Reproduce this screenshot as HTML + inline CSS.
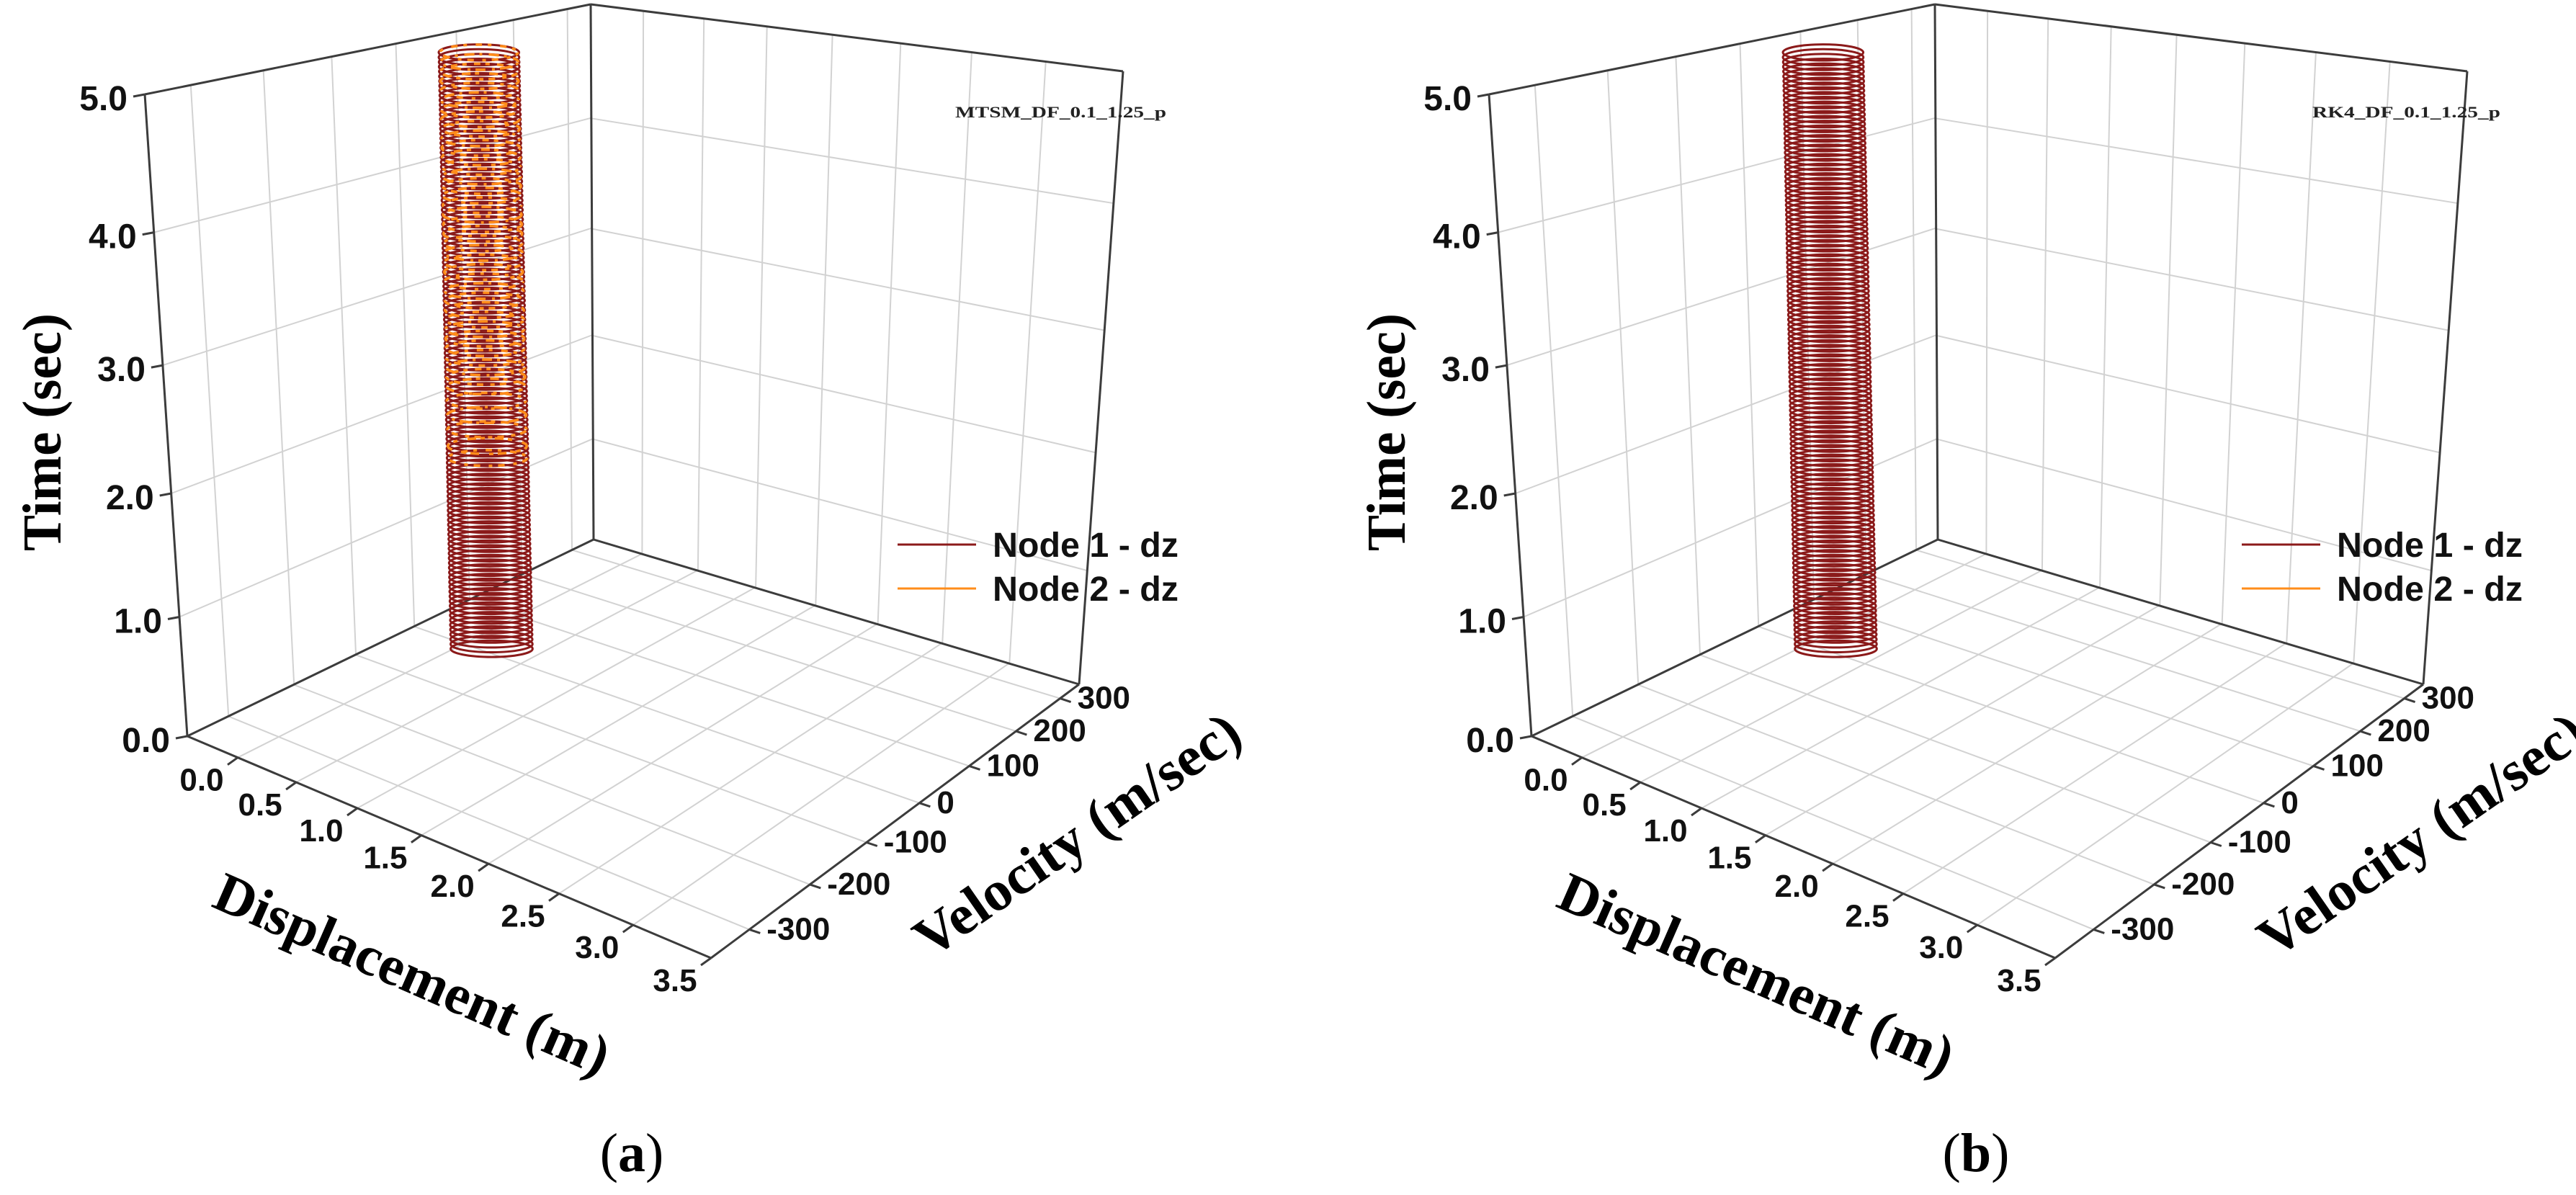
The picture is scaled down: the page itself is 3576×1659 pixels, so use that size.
<!DOCTYPE html>
<html><head><meta charset="utf-8">
<style>
html,body{margin:0;padding:0;background:#fff;}
svg{display:block;}
</style></head>
<body>
<svg id="fig" width="3576" height="1659" viewBox="0 0 3576 1659" xmlns="http://www.w3.org/2000/svg">
  <g id="panelA"></g>
  <g id="panelB" transform="translate(1866,0)"></g>
</svg>
<script>
// ---- chart data ----
const dispTicks = [0.0, 0.5, 1.0, 1.5, 2.0, 2.5, 3.0, 3.5];
const dispTickLabels = ["0.0","0.5","1.0","1.5","2.0","2.5","3.0","3.5"];
const velTicks = [-300, -200, -100, 0, 100, 200, 300];
const velTickLabels = ["-300","-200","-100","0","100","200","300"];
const timeTicks = [0, 1, 2, 3, 4, 5];
const timeTickLabels = ["0.0","1.0","2.0","3.0","4.0","5.0"];
const dispRange = [-0.45, 3.5];
const velRange = [-360, 345];
const timeRange = [0, 5];
// phase-space ring samples (time of each orbit), node 1 / node 2
const node1Times = [0.00,0.04,0.08,0.12,0.16,0.20,0.24,0.28,0.32,0.36,0.40,0.44,0.48,0.52,0.56,0.60,0.64,0.68,0.72,0.76,0.80,0.84,0.88,0.92,0.96,1.00,1.04,1.08,1.12,1.16,1.20,1.24,1.28,1.32,1.36,1.40,1.44,1.48,1.52,1.56,1.60,1.64,1.68,1.72,1.76,1.80,1.84,1.88,1.92,1.96,2.00,2.04,2.08,2.12,2.16,2.20,2.24,2.28,2.32,2.36,2.40,2.44,2.48,2.52,2.56,2.60,2.64,2.68,2.72,2.76,2.80,2.84,2.88,2.92,2.96,3.00,3.04,3.08,3.12,3.16,3.20,3.24,3.28,3.32,3.36,3.40,3.44,3.48,3.52,3.56,3.60,3.64,3.68,3.72,3.76,3.80,3.84,3.88,3.92,3.96,4.00,4.04,4.08,4.12,4.16,4.20,4.24,4.28,4.32,4.36,4.40,4.44,4.48,4.52,4.56,4.60,4.64,4.68,4.72,4.76,4.80,4.84,4.88,4.92,4.96,5.00];
const node2TimesA = [1.60,1.70,1.84,1.96,2.08,2.20,2.28,2.36,2.44,2.52,2.60,2.68,2.76,2.84,2.92,3.00,3.08,3.16,3.24,3.32,3.40,3.48,3.56,3.64,3.72,3.80,3.88,3.96,4.04,4.12,4.20,4.28,4.36,4.44,4.52,4.60,4.68,4.76,4.84,4.92,5.00];
const node2TimesB = [];
const ringDispCenter = [0.20];
const ringVelCenter = [10];
const ringDispAmp = [0.36];

// ---- geometry (pixel layout, not data) ----
const L0=[260,1022], F0=[987,1330], R0=[1498,950], B0=[824,749];
const L1=[201,131], F1=[993,331], R1=[1559,99], B1=[820,6];

function homog(q){
  const [x0,y0]=q[0],[x1,y1]=q[1],[x2,y2]=q[2],[x3,y3]=q[3];
  const dx1=x1-x2,dx2=x3-x2,dx3=x0-x1+x2-x3,dy1=y1-y2,dy2=y3-y2,dy3=y0-y1+y2-y3;
  const den=dx1*dy2-dx2*dy1;
  const g=(dx3*dy2-dx2*dy3)/den,h=(dx1*dy3-dx3*dy1)/den;
  const a=x1-x0+g*x1,b=x3-x0+h*x3,c=x0,d=y1-y0+g*y1,e=y3-y0+h*y3,f=y0;
  return (u,w)=>{const z=g*u+h*w+1;return [(a*u+b*w+c)/z,(d*u+e*w+f)/z];};
}
const floorH=homog([L0,F0,R0,B0]);
const ceilH=homog([L1,F1,R1,B1]);
const leftH=homog([L0,B0,B1,L1]);
const backH=homog([B0,R0,R1,B1]);
const fd=d=>(d-dispRange[0])/(dispRange[1]-dispRange[0]);
const fv=v=>(v-velRange[0])/(velRange[1]-velRange[0]);
const ft=t=>(t-timeRange[0])/(timeRange[1]-timeRange[0]);
function P3(d,v,t){const a=floorH(fd(d),fv(v)),b=ceilH(fd(d),fv(v)),k=ft(t);return [a[0]+(b[0]-a[0])*k,a[1]+(b[1]-a[1])*k];}

const NS="http://www.w3.org/2000/svg";
function mk(parent,tag,attrs){const el=document.createElementNS(NS,tag);for(const k in attrs)el.setAttribute(k,attrs[k]);parent.appendChild(el);return el;}
function line(parent,p,q,stroke,w){return mk(parent,'line',{x1:p[0].toFixed(1),y1:p[1].toFixed(1),x2:q[0].toFixed(1),y2:q[1].toFixed(1),stroke:stroke,'stroke-width':w});}

function drawPanel(g,title,n2times,letter){
  const grid=mk(g,'g',{});
  
  
  const gc='#d2d2d2', gw=2;
  dispTicks.forEach(d=>{
    const l1=line(grid,floorH(fd(d),0),floorH(fd(d),1),gc,gw);
    
    
    const l2=line(grid,backH(fd(d),0),backH(fd(d),1),gc,gw);
    
    
  });
  velTicks.forEach(v=>{
    const l1=line(grid,floorH(0,fv(v)),floorH(1,fv(v)),gc,gw);
    
    
    const l2=line(grid,leftH(fv(v),0),leftH(fv(v),1),gc,gw);
    
    
  });
  timeTicks.forEach(t=>{
    const l1=line(grid,leftH(0,ft(t)),leftH(1,ft(t)),gc,gw);
    
    
    const l2=line(grid,backH(0,ft(t)),backH(1,ft(t)),gc,gw);
    
    
  });
  const edges=mk(g,'g',{});
  
  
  [[L0,L1],[L1,B1],[B1,R1],[R1,R0],[L0,B0],[B0,R0],[B0,B1],[L0,F0],[F0,R0]].forEach(e=>{
    const l=line(edges,e[0],e[1],'#3c3c3c',3);
    
    
  });
  const tl=mk(g,'g',{'font-family':'"Liberation Sans", Arial, sans-serif','font-weight':'bold','fill':'#111'});
  
  
  timeTicks.forEach((t,i)=>{
    const p=leftH(0,ft(t));
    const tk=line(tl,p,[p[0]-16,p[1]+3],'#3c3c3c',3);
    
    
    const tx=mk(tl,'text',{x:(p[0]-24).toFixed(1),y:(p[1]+22).toFixed(1),'text-anchor':'end','font-size':48});
    tx.textContent=timeTickLabels[i];
    
    
  });
  dispTicks.forEach((d,i)=>{
    const p=floorH(fd(d),0);
    const tk=line(tl,p,[p[0]-14,p[1]+10],'#3c3c3c',3);
    
    
    const tx=mk(tl,'text',{x:(p[0]-50).toFixed(1),y:(p[1]+46).toFixed(1),'text-anchor':'middle','font-size':44});
    tx.textContent=dispTickLabels[i];
    
    
  });
  velTicks.forEach((v,i)=>{
    const p=floorH(1,fv(v));
    const tk=line(tl,p,[p[0]+15,p[1]+5],'#3c3c3c',3);
    
    
    const tx=mk(tl,'text',{x:(p[0]+24).toFixed(1),y:(p[1]+14).toFixed(1),'text-anchor':'start','font-size':44});
    tx.textContent=velTickLabels[i];
    
    
  });
  const s1=mk(g,'g',{fill:'none',stroke:'#8b1a1a','stroke-width':3});
  
  
  function ring(parent,t,k){
    const c=P3(ringDispCenter[0],ringVelCenter[0],t);
    const a=P3(ringDispCenter[0]+ringDispAmp[0],ringVelCenter[0],t), b=P3(ringDispCenter[0]-ringDispAmp[0],ringVelCenter[0],t);
    const rx=Math.abs(a[0]-b[0])/2*k;
    return mk(parent,'ellipse',{cx:c[0].toFixed(1),cy:c[1].toFixed(1),rx:rx.toFixed(1),ry:(rx*0.2).toFixed(1)});
  }
  node1Times.forEach(t=>{
    const e=ring(s1,t,1);
    
    
  });
  const s2=mk(g,'g',{fill:'none',stroke:'#ff8c1a','stroke-width':3.6});
  
  
  const dashes=['9 8 5 12','12 6 6 14','6 10 9 7','14 7 4 9'];
  n2times.forEach((t,i)=>{
    const e=ring(s2,t,0.97);
    e.setAttribute('stroke-dasharray',dashes[i%4]);
    e.setAttribute('stroke-dashoffset',(i*7)%23);
    
    
  });
  const lg=mk(g,'g',{'font-family':'"Liberation Sans", Arial, sans-serif','font-weight':'bold','font-size':48,fill:'#111'});
  
  
  [['Node 1 - dz','#8b1a1a',756],['Node 2 - dz','#ff8c1a',817]].forEach(r=>{
    const l=line(lg,[1246,r[2]],[1355,r[2]],r[1],3);
    
    
    const tx=mk(lg,'text',{x:1378,y:r[2]+17,textLength:258,lengthAdjust:'spacingAndGlyphs'});
    tx.textContent=r[0];
    
    
  });
  const serif='"Liberation Serif","Times New Roman",serif';
  const tt=mk(g,'text',{x:title.x,y:163,'font-family':serif,'font-weight':'bold','font-size':22,textLength:title.len,lengthAdjust:'spacingAndGlyphs',fill:'#222'});
  tt.textContent=title.text;
  
  
  const yt=mk(g,'text',{x:0,y:0,transform:'translate(84,600) rotate(-90)','text-anchor':'middle','font-family':serif,'font-weight':'bold','font-size':76,textLength:330,lengthAdjust:'spacingAndGlyphs',fill:'#000'});
  yt.textContent='Time (sec)';
  
  
  const xt=mk(g,'text',{x:0,y:0,transform:'translate(562,1376) rotate(23.6)','text-anchor':'middle','font-family':serif,'font-weight':'bold','font-size':78,textLength:590,lengthAdjust:'spacingAndGlyphs',fill:'#000'});
  xt.textContent='Displacement (m)';
  
  
  const vt=mk(g,'text',{x:0,y:0,transform:'translate(1510,1180) rotate(-34.8)','text-anchor':'middle','font-family':serif,'font-weight':'bold','font-size':78,textLength:532,lengthAdjust:'spacingAndGlyphs',fill:'#000'});
  vt.textContent='Velocity (m/sec)';
  
  
  const pl=mk(g,'text',{x:877,y:1626,'text-anchor':'middle','font-family':serif,'font-size':76,fill:'#000'});
  
  
  const t1=mk(pl,'tspan',{}); t1.textContent='(';
  const t2=mk(pl,'tspan',{'font-weight':'bold'}); t2.textContent=letter;
  const t3=mk(pl,'tspan',{}); t3.textContent=')';
}
drawPanel(document.getElementById('panelA'),{text:'MTSM_DF_0.1_1.25_p',x:1326,len:293},node2TimesA,'a');
drawPanel(document.getElementById('panelB'),{text:'RK4_DF_0.1_1.25_p',x:1344,len:261},node2TimesB,'b');
</script>
</body></html>
